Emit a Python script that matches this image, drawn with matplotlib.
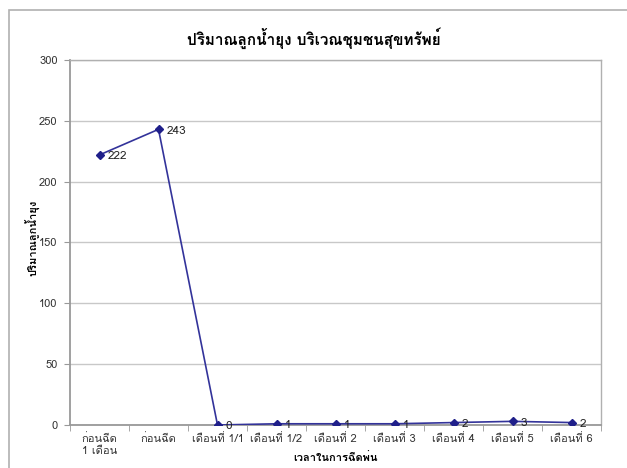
import matplotlib
matplotlib.use("Agg")
import matplotlib.pyplot as plt
from matplotlib import font_manager
from matplotlib.ft2font import FT2Font
from matplotlib.patches import Rectangle

# data
categories = ["ก่อนฉีด\n1 เดือน", "ก่อนฉีด", "เดือนที่ 1/1", "เดือนที่ 1/2", "เดือนที่ 2",
              "เดือนที่ 3", "เดือนที่ 4", "เดือนที่ 5", "เดือนที่ 6"]
larvae = [222, 243, 0, 1, 1, 1, 2, 3, 2]
title = "ปริมาณลูกน้ำยุง บริเวณชุมชนสุขทรัพย์"
y_label = "ปริมาณลูกน้ำยุง"
x_label = "เวลาในการฉีดพ่น"


def find_thai_font():
    found = []
    for entry in font_manager.fontManager.ttflist:
        try:
            cmap = FT2Font(entry.fname).get_charmap()
        except Exception:
            continue
        if 0x0E1B in cmap and 0x0E49 in cmap:
            found.append(entry.name)
    return found


thai_fonts = find_thai_font()
families = thai_fonts[:1] + ["DejaVu Sans"]
plt.rcParams["font.family"] = families

fig = plt.figure(figsize=(6.27, 4.68), dpi=100)
fig.patches.append(Rectangle((9 / 627, -0.1), 1.2, 1 - 10 / 468 + 0.1, transform=fig.transFigure,
                             fill=False, edgecolor="#b0b0b0", linewidth=1.2))
ax = fig.add_axes([70 / 627, 43 / 468, 531 / 627, 365 / 468])

x = list(range(len(categories)))
ax.plot(x, larvae, color="#33339a", linewidth=1.2, marker="D", markersize=4,
        markerfacecolor="#1f1f8a", markeredgecolor="#1f1f8a", zorder=3)
for xi, v in zip(x, larvae):
    ax.annotate(str(v), (xi, v), xytext=(6, -1), textcoords="offset points",
                ha="left", va="center", fontsize=8.5, color="#222222")

ax.set_xlim(-0.5, len(categories) - 0.5)
ax.set_ylim(0, 300)
ax.set_yticks(range(0, 301, 50))
ax.yaxis.grid(True, color="#c8c8c8", linewidth=1)
ax.set_axisbelow(True)

ax.set_xticks(x)
ax.set_xticklabels(categories, fontsize=8, color="#333333", linespacing=1.15)
ax.tick_params(axis="x", length=0, pad=6)
ax.set_xticks([i - 0.5 for i in range(len(categories) + 1)], minor=True)
ax.tick_params(axis="x", which="minor", length=4, color="#999999", direction="out")
ax.tick_params(axis="y", labelsize=8, labelcolor="#333333", length=4, color="#999999", pad=5)

for side in ["left", "bottom"]:
    ax.spines[side].set_color("#999999")
    ax.spines[side].set_linewidth(1.3)
for side in ["top", "right"]:
    ax.spines[side].set_color("#b0b0b0")
    ax.spines[side].set_linewidth(1.0)

fig.text(33 / 627, 1 - 238 / 468, y_label, rotation=90, ha="center", va="center",
         fontsize=8, fontweight="bold")
fig.text(335 / 627, 1 - 458 / 468, x_label, ha="center", va="center",
         fontsize=8, fontweight="bold")
fig.text(0.5, 1 - 38 / 468, title, ha="center", va="center", fontsize=11, fontweight="bold")

fig.savefig("out.png", dpi=100)
